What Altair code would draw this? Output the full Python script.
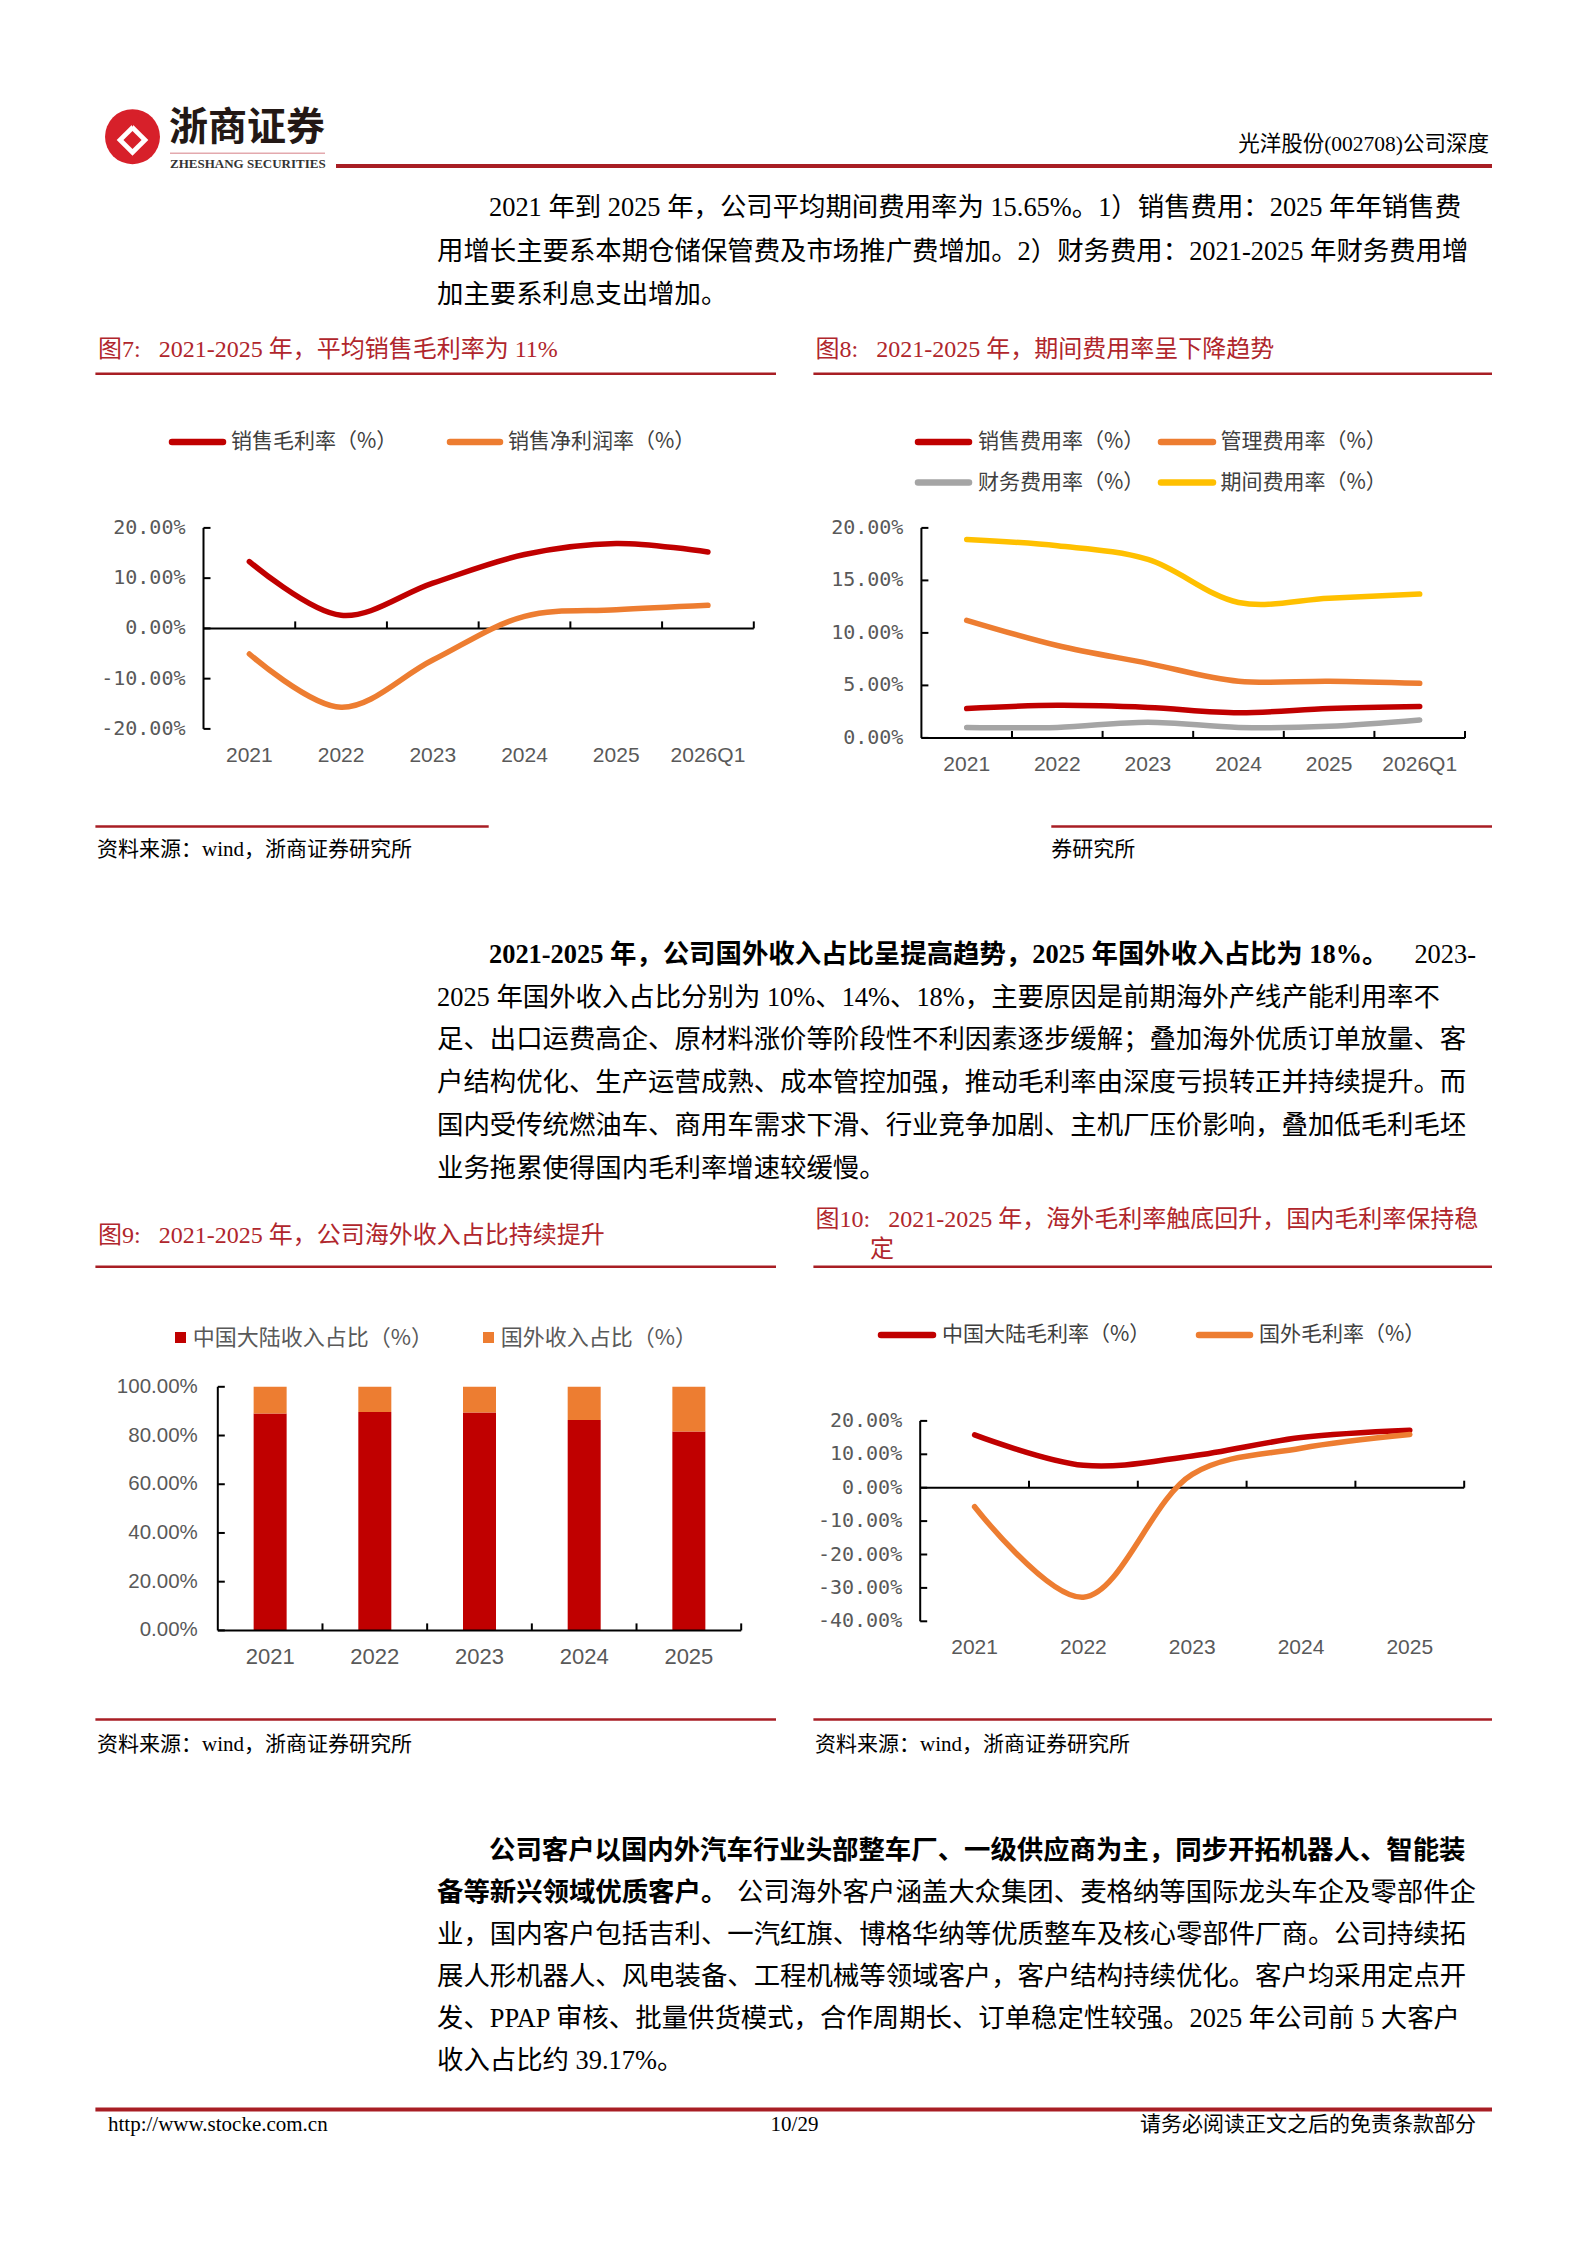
import altair as alt
import pandas as pd

# ---------------- data ----------------
years6 = ["2021", "2022", "2023", "2024", "2025", "2026Q1"]
years5 = ["2021", "2022", "2023", "2024", "2025"]

# Fig 7
names7 = ["销售毛利率（%）", "销售净利润率（%）"]
gross_margin = [13.3, 2.6, 9.0, 14.7, 16.9, 15.2]
net_margin = [-5.1, -15.7, -6.3, 2.4, 3.7, 4.6]
ticks7 = [20, 10, 0, -10, -20]
labels7 = ["20.00%", "10.00%", "0.00%", "-10.00%", "-20.00%"]

# Fig 8
names8 = ["销售费用率（%）", "管理费用率（%）", "财务费用率（%）", "期间费用率（%）"]
sales_exp = [2.8, 3.1, 2.9, 2.4, 2.8, 3.0]
admin_exp = [11.2, 8.8, 7.1, 5.4, 5.4, 5.2]
fin_exp = [1.0, 1.0, 1.5, 1.0, 1.1, 1.7]
period_exp = [18.9, 18.3, 17.0, 12.9, 13.3, 13.7]
ticks8 = [20, 15, 10, 5, 0]
labels8 = ["20.00%", "15.00%", "10.00%", "5.00%", "0.00%"]

# Fig 9
names9 = ["中国大陆收入占比（%）", "国外收入占比（%）"]
domestic_share = [89.0, 89.7, 89.5, 86.4, 81.6]
overseas_share = [11.0, 10.3, 10.5, 13.6, 18.4]
ticks9 = [100, 80, 60, 40, 20, 0]
labels9 = ["100.00%", "80.00%", "60.00%", "40.00%", "20.00%", "0.00%"]

# Fig 10
names10 = ["中国大陆毛利率（%）", "国外毛利率（%）"]
domestic_gm = [15.8, 6.7, 9.5, 15.0, 17.2]
overseas_gm = [-5.7, -32.8, 4.0, 11.8, 15.9]
ticks10 = [20, 10, 0, -10, -20, -30, -40]
labels10 = ["20.00%", "10.00%", "0.00%", "-10.00%", "-20.00%", "-30.00%", "-40.00%"]

# Text
header_right = "光洋股份(002708)公司深度"
para1 = [
    "2021 年到 2025 年，公司平均期间费用率为 15.65%。1）销售费用：2025 年年销售费",
    "用增长主要系本期仓储保管费及市场推广费增加。2）财务费用：2021-2025 年财务费用增",
    "加主要系利息支出增加。",
]
para2_bold = "2021-2025 年，公司国外收入占比呈提高趋势，2025 年国外收入占比为 18%。"
para2_tail = "2023-"
para2 = [
    "2025 年国外收入占比分别为 10%、14%、18%，主要原因是前期海外产线产能利用率不",
    "足、出口运费高企、原材料涨价等阶段性不利因素逐步缓解；叠加海外优质订单放量、客",
    "户结构优化、生产运营成熟、成本管控加强，推动毛利率由深度亏损转正并持续提升。而",
    "国内受传统燃油车、商用车需求下滑、行业竞争加剧、主机厂压价影响，叠加低毛利毛坯",
    "业务拖累使得国内毛利率增速较缓慢。",
]
para3_l1 = "公司客户以国内外汽车行业头部整车厂、一级供应商为主，同步开拓机器人、智能装"
para3_l2_bold = "备等新兴领域优质客户。"
para3_l2_tail = "公司海外客户涵盖大众集团、麦格纳等国际龙头车企及零部件企"
para3 = [
    "业，国内客户包括吉利、一汽红旗、博格华纳等优质整车及核心零部件厂商。公司持续拓",
    "展人形机器人、风电装备、工程机械等领域客户，客户结构持续优化。客户均采用定点开",
    "发、PPAP 审核、批量供货模式，合作周期长、订单稳定性较强。2025 年公司前 5 大客户",
    "收入占比约 39.17%。",
]
GAP = "\u00a0\u00a0\u00a0"
title7 = "图7:" + GAP + "2021-2025 年，平均销售毛利率为 11%"
title8 = "图8:" + GAP + "2021-2025 年，期间费用率呈下降趋势"
title9 = "图9:" + GAP + "2021-2025 年，公司海外收入占比持续提升"
title10a = "图10:" + GAP + "2021-2025 年，海外毛利率触底回升，国内毛利率保持稳"
title10b = "定"
source = "资料来源：wind，浙商证券研究所"
source_cut = "券研究所"
footer_left = "http://www.stocke.com.cn"
footer_mid = "10/29"
footer_right = "请务必阅读正文之后的免责条款部分"

# ---------------- style ----------------
W, H = 1572, 2190
OFF = 8
def P(v):
    return v - OFF

SERIF = "'Liberation Serif', 'Noto Sans CJK SC'"
SANS = "'Liberation Sans', 'Noto Sans CJK SC'"
CJK = "'Noto Sans CJK SC'"
MONO = "'DejaVu Sans Mono'"
RED = "#C00000"
ORANGE = "#ED7D31"
GRAY = "#A5A5A5"
YELLOW = "#FFC000"
TITLE_RED = "#B0262C"
LINE_RED = "#A81E24"
AXIS = "#000000"
LABEL = "#595959"
LEG = "#404040"
BODY = 26.4

one = pd.DataFrame({"k": [0]})


def text(s, x, y, size, font=SERIF, color="#000000", weight="normal", align="left"):
    return alt.Chart(one).mark_text(
        text=s, fontSize=size, font=font, color=color, fontWeight=weight,
        align=align, baseline="middle"
    ).encode(x=alt.value(P(x)), y=alt.value(P(y)))


def hline(x1, x2, y, color, w, cap="butt"):
    return alt.Chart(one).mark_rule(color=color, strokeWidth=w, strokeCap=cap).encode(
        x=alt.value(P(x1)), x2=alt.value(P(x2)), y=alt.value(P(y))
    )


def square(x1, x2, y1, y2, color):
    return alt.Chart(one).mark_rect(color=color).encode(
        x=alt.value(P(x1)), x2=alt.value(P(x2)), y=alt.value(P(y1)), y2=alt.value(P(y2))
    )


def frame(n, x0, x1, ydom, ybot, ytop, ticks, tick_labels, xlab_y, cats, zero_val,
          lab_dx, lab_font, lab_size, cat_size):
    xs = alt.Scale(domain=[-0.5, n - 0.5], range=[P(x0), P(x1)], nice=False, zero=False)
    ys = alt.Scale(domain=ydom, range=[P(ybot), P(ytop)], nice=False, zero=False)
    X = lambda f: alt.X(f, scale=xs, axis=None)
    Y = lambda f: alt.Y(f, scale=ys, axis=None)
    tdf = pd.DataFrame({"v": ticks, "lab": tick_labels, "x0": [-0.5] * len(ticks)})
    cdf = pd.DataFrame({"i": list(range(n)), "c": cats})
    bdf = pd.DataFrame({"t": [k + 0.5 for k in range(n)], "z": [zero_val] * n})
    adf = pd.DataFrame({"a": [-0.5], "b": [n - 0.5], "z": [zero_val], "lo": [ydom[0]], "hi": [ydom[1]]})
    layers = [
        alt.Chart(adf).mark_rule(color=AXIS, strokeWidth=2).encode(x=X("a:Q"), y=Y("lo:Q"), y2="hi:Q"),
        alt.Chart(tdf).mark_rule(color=AXIS, strokeWidth=2, x2Offset=7).encode(x=X("x0:Q"), x2="x0:Q", y=Y("v:Q")),
        alt.Chart(tdf).mark_text(align="right", baseline="middle", dx=lab_dx, font=lab_font,
                                 fontSize=lab_size, color=LABEL).encode(x=X("x0:Q"), y=Y("v:Q"), text="lab:N"),
        alt.Chart(cdf).mark_text(align="center", baseline="middle", font=SANS, fontSize=cat_size,
                                 color=LABEL).encode(x=X("i:Q"), y=alt.value(P(xlab_y)), text="c:N"),
    ]
    return X, Y, layers, adf, bdf


def axis_x(X, Y, adf, bdf):
    return [
        alt.Chart(adf).mark_rule(color=AXIS, strokeWidth=2).encode(x=X("a:Q"), x2="b:Q", y=Y("z:Q")),
        alt.Chart(bdf).mark_rule(color=AXIS, strokeWidth=2, y2Offset=-7).encode(x=X("t:Q"), y=Y("z:Q"), y2="z:Q"),
    ]


def line_panel(cats, names, vals, colors, x0, x1, ydom, ybot, ytop, ticks, tick_labels, xlab_y, zero_val):
    n = len(cats)
    X, Y, layers, adf, bdf = frame(n, x0, x1, ydom, ybot, ytop, ticks, tick_labels, xlab_y, cats,
                                   zero_val, -18, MONO, 20, 21)
    df = pd.DataFrame([{"i": i, "s": nm, "v": v} for nm, vs in zip(names, vals) for i, v in enumerate(vs)])
    lines = alt.Chart(df).mark_line(interpolate="catmull-rom", strokeWidth=5.5, strokeCap="round",
                                    strokeJoin="round").encode(
        x=X("i:Q"), y=Y("v:Q"),
        color=alt.Color("s:N", scale=alt.Scale(domain=names, range=colors), legend=None),
        detail="s:N",
    )
    return alt.layer(*(layers + axis_x(X, Y, adf, bdf) + [lines]))


def bar_panel(cats, names, dom, ovs, colors, x0, x1, ybot, ytop, ticks, tick_labels, xlab_y):
    n = len(cats)
    X, Y, layers, adf, bdf = frame(n, x0, x1, [0, 100], ybot, ytop, ticks, tick_labels, xlab_y, cats,
                                   0, -20, SANS, 20.5, 22)
    rows = []
    for i in range(n):
        rows.append({"i": i, "s": names[0], "lo": 0, "hi": dom[i]})
        rows.append({"i": i, "s": names[1], "lo": dom[i], "hi": dom[i] + ovs[i]})
    df = pd.DataFrame(rows)
    bars = alt.Chart(df).mark_bar(size=33).encode(
        x=X("i:Q"), y=Y("lo:Q"), y2="hi:Q",
        color=alt.Color("s:N", scale=alt.Scale(domain=names, range=colors), legend=None),
    )
    return alt.layer(*(layers + [bars] + axis_x(X, Y, adf, bdf)))


layers = []

# ---------------- header ----------------
logo_c = alt.Chart(one).mark_circle(size=3019, color="#D7202A", opacity=1).encode(
    x=alt.value(P(132.5)), y=alt.value(P(136.7)))
logo_w = alt.Chart(one).mark_point(shape="diamond", filled=True, size=1000, color="#FFFFFF", opacity=1).encode(
    x=alt.value(P(132.5)), y=alt.value(P(140)))
logo_r = alt.Chart(one).mark_point(shape="diamond", filled=True, size=330, color="#D7202A", opacity=1).encode(
    x=alt.value(P(132.5)), y=alt.value(P(140)))
logo_t = alt.Chart(one).mark_point(shape="triangle-down", filled=True, size=180, color="#D7202A", opacity=1).encode(
    x=alt.value(P(132.5)), y=alt.value(P(121)))
layers += [logo_c, logo_w, logo_r, logo_t]
layers.append(text("浙商证券", 169, 128, 39, font=CJK, color="#231815", weight="bold"))
layers.append(hline(170, 325, 153.3, "#E3A9AE", 1.5))
layers.append(text("ZHESHANG SECURITIES", 170, 163.5, 13, font="'Liberation Serif'", color="#333333", weight="bold"))
layers.append(text(header_right, 1489, 145, 21.5, align="right"))
layers.append(hline(336, 1492, 166, LINE_RED, 4))

# ---------------- paragraph 1 ----------------
p1_y = [208, 251.5, 295]
for k, s in enumerate(para1):
    layers.append(text(s, 489 if k == 0 else 437, p1_y[k], BODY))

# ---------------- fig 7 / 8 titles ----------------
layers.append(text(title7, 98, 350, 24, color=TITLE_RED))
layers.append(text(title8, 815.5, 350, 24, color=TITLE_RED))
layers.append(hline(95.4, 776, 373.7, LINE_RED, 2.5))
layers.append(hline(813.4, 1492, 373.7, LINE_RED, 2.5))

# fig 7 legend
layers.append(hline(172, 223, 442, RED, 6.5, "round"))
layers.append(text(names7[0], 231, 442, 21, font=CJK, color=LEG))
layers.append(hline(450, 500, 442, ORANGE, 6.5, "round"))
layers.append(text(names7[1], 508, 442, 21, font=CJK, color=LEG))

layers.append(line_panel(years6, names7, [gross_margin, net_margin], [RED, ORANGE],
                         203.5, 753.8, [-20, 20], 728.9, 527.9, ticks7, labels7, 755.7, 0))

# fig 8 legend
leg8 = [(918, 969, 978, 442, RED), (1161, 1213, 1220.5, 442, ORANGE),
        (918, 969, 978, 482.5, GRAY), (1161, 1213, 1220.5, 482.5, YELLOW)]
for (a, b, tx, yy, col), nm in zip(leg8, names8):
    layers.append(hline(a, b, yy, col, 6.5, "round"))
    layers.append(text(nm, tx, yy, 21, font=CJK, color=LEG))

layers.append(line_panel(years6, names8, [sales_exp, admin_exp, fin_exp, period_exp],
                         [RED, ORANGE, GRAY, YELLOW],
                         921.4, 1465, [0, 20], 737.9, 527.9, ticks8, labels8, 764.6, 0))

# sources row 1
layers.append(hline(95.4, 488.7, 826.4, LINE_RED, 2.5))
layers.append(text(source, 97, 850.4, 21))
layers.append(hline(1051.3, 1492, 826.4, LINE_RED, 2.5))
layers.append(text(source_cut, 1051.3, 850.4, 21))

# ---------------- paragraph 2 ----------------
p2_y = [955, 997.5, 1040, 1083, 1126, 1169]
layers.append(text(para2_bold, 489, p2_y[0], BODY, weight="bold"))
layers.append(text(para2_tail, 1476, p2_y[0], BODY, align="right"))
for k, s in enumerate(para2):
    layers.append(text(s, 437, p2_y[k + 1], BODY))

# ---------------- fig 9 / 10 ----------------
layers.append(text(title9, 98, 1235.7, 24, color=TITLE_RED))
layers.append(text(title10a, 815.5, 1219.6, 24, color=TITLE_RED))
layers.append(text(title10b, 870, 1250, 24, color=TITLE_RED))
layers.append(hline(95.4, 776, 1266.8, LINE_RED, 2.5))
layers.append(hline(813.4, 1492, 1266.8, LINE_RED, 2.5))

layers.append(square(175, 186, 1332, 1343, RED))
layers.append(text(names9[0], 192.7, 1337.5, 22, font=CJK, color=LABEL))
layers.append(square(483, 494, 1332, 1343, ORANGE))
layers.append(text(names9[1], 500.7, 1337.5, 22, font=CJK, color=LABEL))

layers.append(bar_panel(years5, names9, domestic_share, overseas_share, [RED, ORANGE],
                        212.8, 746.2, 1630.4, 1386.8, ticks9, labels9, 1657))

layers.append(hline(881, 933, 1335, RED, 6.5, "round"))
layers.append(text(names10[0], 942, 1335, 21, font=CJK, color=LEG))
layers.append(hline(1199, 1250, 1335, ORANGE, 6.5, "round"))
layers.append(text(names10[1], 1259, 1335, 21, font=CJK, color=LEG))

layers.append(line_panel(years5, names10, [domestic_gm, overseas_gm], [RED, ORANGE],
                         920.2, 1464.2, [-40, 20], 1621.3, 1420.9, ticks10, labels10, 1648.2, 0))

layers.append(hline(95.4, 776, 1719.6, LINE_RED, 2.5))
layers.append(text(source, 97, 1744.6, 21))
layers.append(hline(813.4, 1492, 1719.6, LINE_RED, 2.5))
layers.append(text(source, 815, 1744.6, 21))

# ---------------- paragraph 3 ----------------
p3_y = [1851, 1893, 1935, 1977, 2019, 2061]
layers.append(text(para3_l1, 489, p3_y[0], BODY, weight="bold"))
layers.append(text(para3_l2_bold, 437, p3_y[1], BODY, weight="bold"))
layers.append(text(para3_l2_tail, 1476, p3_y[1], BODY, align="right"))
for k, s in enumerate(para3):
    layers.append(text(s, 437, p3_y[k + 2], BODY))

# ---------------- footer ----------------
layers.append(hline(95.4, 1492, 2109.5, LINE_RED, 4))
layers.append(text(footer_left, 108, 2125, 21))
layers.append(text(footer_mid, 794.5, 2125, 21, align="center"))
layers.append(text(footer_right, 1476, 2125, 21, align="right"))

chart = alt.layer(*layers).resolve_scale(
    x="independent", y="independent", color="independent"
).properties(
    width=W, height=H, padding=0, autosize=alt.AutoSizeParams(type="none")
).configure_view(stroke=None)

chart.save("out.html", embed_options={"renderer": "svg", "actions": False})
